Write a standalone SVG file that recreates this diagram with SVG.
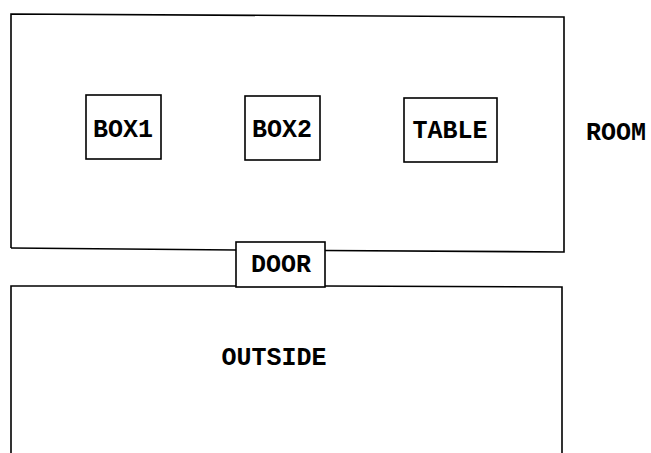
<svg xmlns="http://www.w3.org/2000/svg" width="651" height="453" viewBox="0 0 651 453">
<style>
.ln{fill:none;stroke:#000;stroke-width:1.6;stroke-linejoin:miter}
.t{font-family:"Liberation Mono","Courier New",monospace;font-size:25px;font-weight:bold;fill:#000;text-anchor:middle;dominant-baseline:central}
</style>
<rect x="0" y="0" width="651" height="453" fill="#fff"/>
<g id="room">
<path class="ln" d="M11,248 L11,14 L564,17 L564,252 L325,250.5"/>
<path class="ln" d="M236,250 L11,248"/>
<text class="t" x="616" y="133">ROOM</text>
</g>
<g id="box1">
<rect class="ln" x="86" y="95" width="75" height="64"/>
<text class="t" x="123" y="130">BOX1</text>
</g>
<g id="box2">
<rect class="ln" x="245" y="96" width="75" height="64"/>
<text class="t" x="282" y="130">BOX2</text>
</g>
<g id="table">
<rect class="ln" x="404" y="98" width="93" height="64"/>
<text class="t" x="450" y="131">TABLE</text>
</g>
<g id="door">
<rect class="ln" x="236" y="242" width="89" height="45"/>
<text class="t" x="281" y="265">DOOR</text>
</g>
<g id="outside">
<path class="ln" d="M236,286 L11,286 L11,453"/>
<path class="ln" d="M325,286 L562,287 L562,453"/>
<text class="t" x="274" y="358">OUTSIDE</text>
</g>
<g id="connectors"></g>
</svg>
